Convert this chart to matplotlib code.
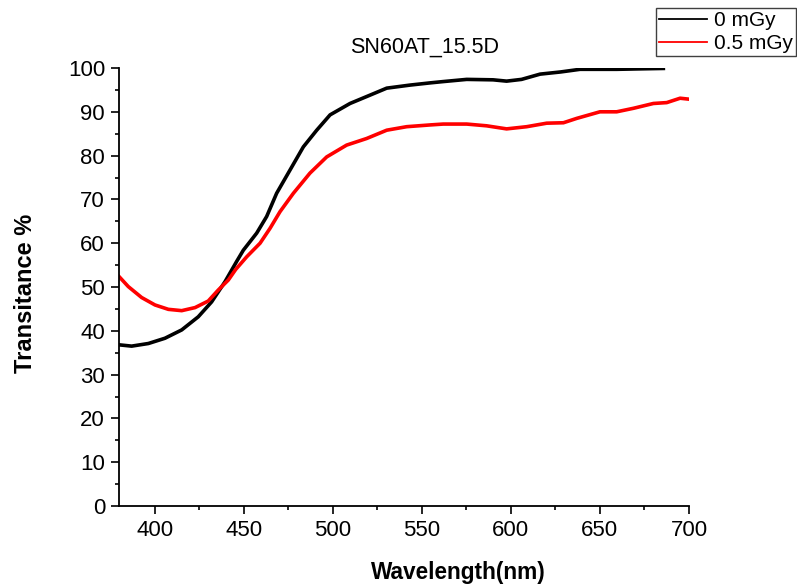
import matplotlib
matplotlib.use("Agg")
import matplotlib.pyplot as plt
from matplotlib.ticker import MultipleLocator

plt.rcParams['font.family'] = ['Liberation Sans', 'DejaVu Sans']

# Data
wl_0 = [380, 387.1, 396.5, 405.8, 415.2, 424.5, 432, 439.5, 446, 449.8, 457.3, 462.9,
        468.5, 476, 483.5, 491, 498.5, 509.7, 520.9, 530.3, 543.4, 554.6, 562,
        575.2, 590, 597.6, 606, 616.4, 628, 638.8, 659.4, 672, 685.6]
t_0 = [36.8, 36.5, 37.1, 38.3, 40.2, 43.2, 46.6, 51.2, 55.8, 58.4, 62.3, 66.1,
       71.4, 76.7, 82.0, 85.8, 89.3, 91.9, 93.8, 95.4, 96.1, 96.6, 96.9,
       97.4, 97.3, 97.0, 97.4, 98.6, 99.1, 99.7, 99.7, 99.8, 99.9]

wl_05 = [380, 385.2, 392.7, 400.2, 407.7, 415.2, 422.7, 430.1, 435.7, 441.4, 445.5,
         451.7, 459.2, 464.8, 470.4, 477.9, 487.2, 496.6, 507.8, 519, 530.3, 541.5,
         554.6, 562, 575.2, 586.4, 597.6, 608.9, 620.1, 629.5, 637, 650,
         659.4, 668.8, 680, 687.5, 695, 699.6]
t_05 = [52.4, 50.1, 47.6, 45.9, 44.9, 44.6, 45.3, 46.8, 49.3, 51.6, 54.0,
        56.9, 60.0, 63.4, 67.2, 71.4, 76.0, 79.7, 82.4, 83.9, 85.8, 86.6,
        87.0, 87.2, 87.2, 86.8, 86.1, 86.6, 87.4, 87.5, 88.5, 90.0,
        90.0, 90.8, 91.9, 92.1, 93.1, 92.9]

series_labels = ['0 mGy', '0.5 mGy']
title = 'SN60AT_15.5D'

W, H = 797, 586
fig = plt.figure(figsize=(W / 100, H / 100), dpi=100)
left, right, top, bottom = 119, 689, 68, 506
ax = fig.add_axes([left / W, 1 - bottom / H, (right - left) / W, (bottom - top) / H])

l0, = ax.plot(wl_0, t_0, color='black', lw=2.6, label=series_labels[0])
l1, = ax.plot(wl_05, t_05, color='#ff0000', lw=2.6, label=series_labels[1])

ax.set_xlim(380, 700)
ax.set_ylim(0, 100)
ax.xaxis.set_major_locator(MultipleLocator(50))
ax.xaxis.set_minor_locator(MultipleLocator(25))
ax.yaxis.set_major_locator(MultipleLocator(10))
ax.yaxis.set_minor_locator(MultipleLocator(5))

for s in ['top', 'right']:
    ax.spines[s].set_visible(False)
for s in ['left', 'bottom']:
    ax.spines[s].set_linewidth(1.3)
ax.tick_params(which='major', direction='out', length=6, width=1.2, labelsize=16, pad=4)
ax.tick_params(which='minor', direction='out', length=3, width=1.2)

fig.text(25 / W, 1 - 293 / H, 'Transitance %', rotation=90, fontsize=17,
         fontweight='bold', ha='center', va='center')
fig.text(458 / W, 1 - 573 / H, 'Wavelength(nm)', fontsize=16.3,
         fontweight='bold', ha='center', va='center')
fig.text(425 / W, 1 - 47 / H, title, fontsize=15.5, ha='center', va='center')

leg = fig.legend(handles=[l0, l1], loc='upper right',
                 bbox_to_anchor=(796 / W, 1 - 8 / H), fontsize=15,
                 frameon=True, fancybox=False, framealpha=1,
                 edgecolor='#404040', borderpad=0.15, handlelength=2.3,
                 handletextpad=0.35, labelspacing=0.2, borderaxespad=0)
leg.get_frame().set_linewidth(1.0)
for line in leg.get_lines():
    line.set_linewidth(1.3)

fig.savefig('out.png', dpi=100)
